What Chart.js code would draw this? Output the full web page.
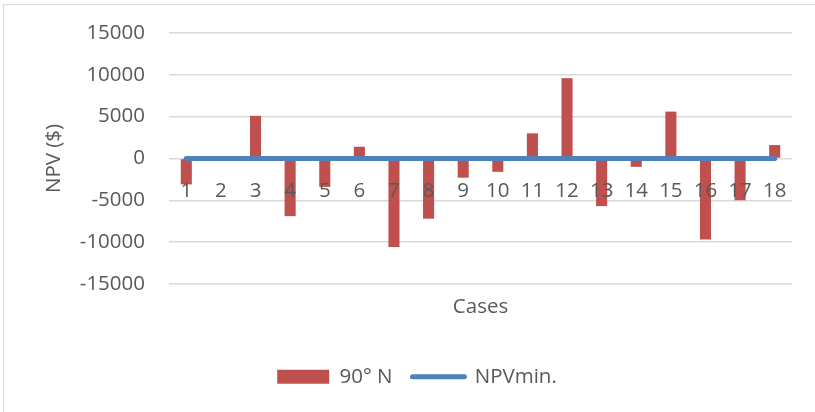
<!DOCTYPE html>
<html>
<head>
<meta charset="utf-8">
<script src="https://cdn.jsdelivr.net/npm/chart.js@4"></script>
<style>
  html, body { margin: 0; padding: 0; background: #fff; }
  #frame {
    position: absolute; left: 3px; top: 4px;
    width: 820px; height: 420px;
    border: 1px solid #d9d9d9; box-sizing: border-box;
  }
  #wrap { position: absolute; left: 3px; top: 4px; width: 812px; height: 408px; }
</style>
</head>
<body>
<div id="frame"></div>
<div id="wrap"><canvas id="npvChart"></canvas></div>
<script>
// Chart data
const cases = ["1","2","3","4","5","6","7","8","9","10","11","12","13","14","15","16","17","18"];
const npv90N = [-3100, 0, 5100, -6900, -3400, 1400, -10600, -7200, -2300, -1600, 3000, 9600, -5700, -1000, 5600, -9700, -5000, 1600];
const npvMin = [0, 0, 0, 0, 0, 0, 0, 0, 0, 0, 0, 0, 0, 0, 0, 0, 0, 0];
const yTicks = [-15000, -10000, -5000, 0, 5000, 10000, 15000];

const textColor = '#595959';
const fontFamily = '"Open Sans", Lato, sans-serif';
const fontSize = 20.5;

const ctx = document.getElementById('npvChart').getContext('2d');

new Chart(ctx, {
    data: {
        labels: cases,
        datasets: [
            {
                type: 'bar',
                label: '90° N',
                data: npv90N,
                backgroundColor: '#C0504D',
                borderColor: '#C0504D',
                borderWidth: 0,
                barPercentage: 0.32,
                categoryPercentage: 1,
                order: 2
            },
            {
                type: 'line',
                label: 'NPVmin.',
                data: npvMin,
                borderColor: '#4F81BD',
                backgroundColor: '#4F81BD',
                borderWidth: 5,
                borderCapStyle: 'round',
                pointRadius: 0,
                pointHoverRadius: 0,
                order: 1
            }
        ]
    },
    options: {
        responsive: true,
        maintainAspectRatio: false,
        animation: false,
        layout: {
            padding: { left: 39, right: 23, top: 29, bottom: 15 }
        },
        scales: {
            x: {
                type: 'category',
                position: { y: 0 },
                grid: { display: false, drawTicks: false },
                border: { display: false },
                ticks: {
                    z: 1,
                    color: textColor,
                    font: { family: fontFamily, size: fontSize },
                    padding: 20,
                    maxRotation: 0,
                    autoSkip: false
                }
            },
            x2: {
                type: 'category',
                position: 'bottom',
                labels: cases,
                grid: { display: false, drawTicks: false },
                border: { display: false },
                ticks: { display: false },
                title: {
                    display: true,
                    text: 'Cases',
                    color: textColor,
                    font: { family: fontFamily, size: fontSize },
                    padding: { top: 11, bottom: 27 }
                }
            },
            y: {
                min: -15000,
                max: 15000,
                afterBuildTicks: (scale) => {
                    scale.ticks = yTicks.map(v => ({ value: v }));
                },
                afterFit: (scale) => {
                    scale.width = 127;
                    scale.paddingTop = 0;
                    scale.paddingBottom = 0;
                },
                grid: { color: '#d9d9d9', lineWidth: 1.5, drawTicks: false },
                border: { display: false },
                ticks: {
                    color: textColor,
                    font: { family: fontFamily, size: fontSize },
                    padding: 24,
                    callback: (v) => String(v)
                },
                title: {
                    display: true,
                    text: 'NPV ($)',
                    color: textColor,
                    font: { family: fontFamily, size: fontSize },
                    padding: { top: 0, bottom: 11 }
                }
            }
        },
        plugins: {
            tooltip: { enabled: false },
            legend: {
                position: 'bottom',
                labels: {
                    color: textColor,
                    font: { family: fontFamily, size: fontSize },
                    usePointStyle: true,
                    pointStyleWidth: 52,
                    boxWidth: 52,
                    boxHeight: 14,
                    padding: 20,
                    sort: (a, b) => a.datasetIndex - b.datasetIndex,
                    generateLabels: (chart) => {
                        const items = Chart.defaults.plugins.legend.labels.generateLabels(chart);
                        items.forEach(item => {
                            if (item.datasetIndex === 0) {
                                item.pointStyle = 'rect';
                                item.lineWidth = 0;
                            } else {
                                item.pointStyle = 'line';
                                item.lineWidth = 5;
                                item.lineCap = 'round';
                            }
                        });
                        return items;
                    }
                }
            }
        }
    }
});
</script>
</body>
</html>
